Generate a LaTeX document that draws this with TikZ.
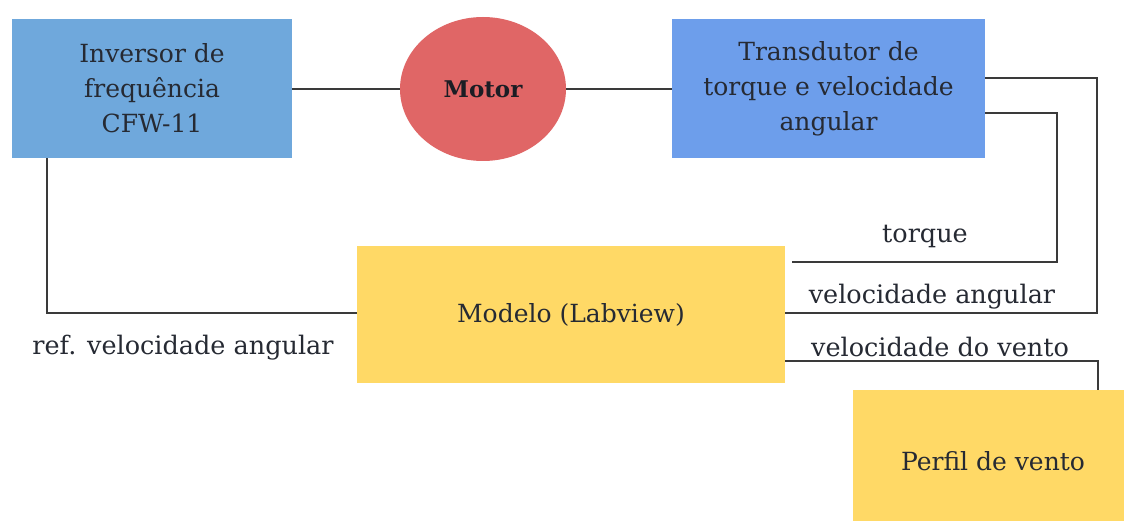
\documentclass[tikz,border=0pt]{standalone}
\usepackage{fontspec}
\setmainfont{DejaVu Serif}
\usetikzlibrary{shapes.geometric}
\definecolor{invblue}{HTML}{6FA8DC}
\definecolor{trblue}{HTML}{6D9EEB}
\definecolor{motred}{HTML}{E06666}
\definecolor{modyel}{HTML}{FFD966}
\definecolor{txt}{HTML}{262A33}
\definecolor{wire}{HTML}{3A3A3A}
\tikzset{
  blockbox/.style={fill=#1, draw=none, align=center, inner sep=0pt,
    text=txt, font=\fontsize{25}{35}\selectfont},
  wirestyle/.style={draw=wire, line width=1.8pt},
  lbl/.style={text=txt, font=\fontsize{25.5}{28}\selectfont, inner sep=0pt}
}
\begin{document}
\begin{tikzpicture}[x=1pt,y=-1pt]
  \clip (0,0) rectangle (1124,521);
  \fill[white] (0,0) rectangle (1124,521);

  % blocks
  \node[blockbox=invblue, minimum width=280pt, minimum height=139pt] (inv) at (152,88.5)
    {Inversor de\\frequência\\CFW-11};
  \node[ellipse, fill=motred, minimum width=166pt, minimum height=144pt, inner sep=0pt,
    text=txt!70!black, font=\fontsize{23}{26}\selectfont\bfseries] (mot) at (483,89) {Motor};
  \node[blockbox=trblue, minimum width=313pt, minimum height=139pt] (tr) at (828.5,88.5)
    {Transdutor de\\torque e velocidade\\angular};
  \node[blockbox=modyel, minimum width=428pt, minimum height=137pt] (mod) at (571,314.5)
    {Modelo (Labview)};
  \node[blockbox=modyel, minimum width=280pt, minimum height=142pt] (per) at (993,461)
    {Perfil de vento};

  % bend points of the signal lines
  \coordinate (va) at (1097,78);
  \coordinate (tq) at (1057,113);
  \coordinate (tqend) at (792,262);
  \coordinate (vv) at (1098,361);
  \coordinate (ref) at (47,313);

  % power path
  \draw[wirestyle] (inv.east |- mot.west) -- (mot.west);
  \draw[wirestyle] (mot.east) -- (tr.west |- mot.east);

  % measured signals into the model
  \draw[wirestyle] (tr.east |- va) -- (va) |- (mod.east |- 0,313);
  \draw[wirestyle] (tr.east |- tq) -- (tq) |- (tqend);
  \draw[wirestyle] (mod.east |- vv) -- (vv) -- (vv |- per.north);
  \draw[wirestyle] (inv.south -| ref) -- (ref) -- (mod.west |- ref);

  % signal labels
  \node[lbl] (ltq) at (925,236) {torque};
  \node[lbl] (lva) at (932,297) {velocidade angular};
  \node[lbl] (lvv) at (940,347) {velocidade do vento};
  \node[lbl] (lref) at (183,348) {ref. velocidade angular};
\end{tikzpicture}
\end{document}
